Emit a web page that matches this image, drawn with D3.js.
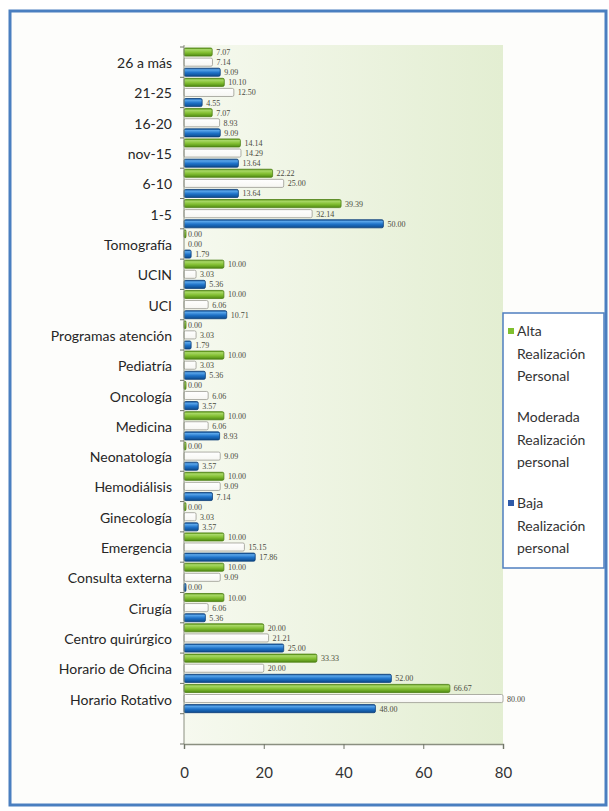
<!DOCTYPE html>
<html><head><meta charset="utf-8">
<script src="https://cdn.jsdelivr.net/npm/d3@7"></script>
<style>html,body{margin:0;padding:0;background:#fff;}svg{display:block;}</style>
</head><body>
<script>
const categories = ["26 a más","21-25","16-20","nov-15","6-10","1-5","Tomografía","UCIN","UCI","Programas atención","Pediatría","Oncología","Medicina","Neonatología","Hemodiálisis","Ginecología","Emergencia","Consulta externa","Cirugía","Centro quirúrgico","Horario de Oficina","Horario Rotativo"];
const alta     = [7.07,10.10,7.07,14.14,22.22,39.39,0.00,10.00,10.00,0.00,10.00,0.00,10.00,0.00,10.00,0.00,10.00,10.00,10.00,20.00,33.33,66.67];
const moderada = [7.14,12.50,8.93,14.29,25.00,32.14,0.00,3.03,6.06,3.03,3.03,6.06,6.06,9.09,9.09,3.03,15.15,9.09,6.06,21.21,20.00,80.00];
const baja     = [9.09,4.55,9.09,13.64,13.64,50.00,1.79,5.36,10.71,1.79,5.36,3.57,8.93,3.57,7.14,3.57,17.86,0.00,5.36,25.00,52.00,48.00];
const seriesNames = ["Alta Realización Personal","Moderada Realización personal","Baja Realización personal"];
const legendLines = [["Alta","Realización","Personal"],["Moderada","Realización","personal"],["Baja","Realización","personal"]];
const xTicks = [0,20,40,60,80];

const W=609,H=811;
const svg=d3.select("body").append("svg").attr("width",W).attr("height",H);
const defs=svg.append("defs");
function vgrad(id,stops){const g=defs.append("linearGradient").attr("id",id).attr("x1",0).attr("y1",0).attr("x2",0).attr("y2",1);
  stops.forEach(s=>g.append("stop").attr("offset",s[0]).attr("stop-color",s[1]));}
vgrad("gGreen",[[0,"#5f9a17"],[0.2,"#a8d867"],[0.55,"#84c033"],[1,"#4f8a12"]]);
vgrad("gWhite",[[0,"#ffffff"],[1,"#f6f6f2"]]);
vgrad("gBlue",[[0,"#0f4f96"],[0.2,"#5aa6ea"],[0.55,"#1e72c8"],[1,"#0d4a8c"]]);
const bg=defs.append("linearGradient").attr("id","gPlot").attr("x1",0).attr("y1",0).attr("x2",1).attr("y2",0);
bg.append("stop").attr("offset",0).attr("stop-color","#f6f9ef");
bg.append("stop").attr("offset",1).attr("stop-color","#e3eed2");

// frame
svg.append("rect").attr("x",10).attr("y",11).attr("width",596).attr("height",794).attr("fill","#fdfdfb").attr("stroke","#4a7fc0").attr("stroke-width",3);

const x=d3.scaleLinear().domain([0,80]).range([184,503]);
const yDomain=categories.concat([""]);
const y=d3.scaleBand().domain(yDomain).range([47,744]).paddingInner(0).paddingOuter(0);
const keys=["a","m","b"];
const ys=d3.scaleBand().domain(keys).range([0,y.bandwidth()]).paddingInner(0.2).paddingOuter(0.1);

svg.append("rect").attr("x",x(0)).attr("y",45).attr("width",x(80)-x(0)).attr("height",744-45).attr("fill","url(#gPlot)");

const data=categories.map((c,i)=>({c,a:alta[i],m:moderada[i],b:baja[i]}));
const fills={a:"url(#gGreen)",m:"url(#gWhite)",b:"url(#gBlue)"};
const strokes={a:"#4d7f14",m:"#9a9a92",b:"#0c3f7a"};

const g=svg.append("g");
data.forEach(d=>{
  keys.forEach(k=>{
    const yy=y(d.c)+ys(k);
    const w=Math.max(x(d[k])-x(0),0);
    g.append("rect").attr("x",x(0)).attr("y",yy).attr("width",Math.max(w,k==="m"?0:2)).attr("height",ys.bandwidth())
      .attr("fill",fills[k]).attr("stroke",strokes[k]).attr("stroke-width",0.8).attr("rx",1.5);
    g.append("text").attr("x",x(d[k])+4).attr("y",yy+ys.bandwidth()/2+3)
      .attr("font-family","Liberation Serif, serif").attr("font-size",8).attr("fill","#4a4a40")
      .text(d[k].toFixed(2));
  });
});

// y axis
svg.append("line").attr("x1",x(0)).attr("x2",x(0)).attr("y1",45).attr("y2",744).attr("stroke","#8a8f80").attr("stroke-width",1);
yDomain.forEach(c=>{
  svg.append("line").attr("x1",x(0)-4).attr("x2",x(0)).attr("y1",y(c)).attr("y2",y(c)).attr("stroke","#707568");
});
svg.append("line").attr("x1",x(0)-4).attr("x2",x(0)).attr("y1",744).attr("y2",744).attr("stroke","#707568");
categories.forEach(c=>{
  svg.append("text").attr("x",172).attr("y",y(c)+y.bandwidth()/2+6).attr("text-anchor","end")
    .attr("font-family","Lato, sans-serif").attr("font-size",14).attr("fill","#262626").text(c);
});

// x axis
const xa=svg.append("g").attr("transform","translate(0,744)")
  .call(d3.axisBottom(x).tickValues(xTicks).tickSize(5).tickPadding(18).tickFormat(d3.format("d")));
xa.select(".domain").attr("stroke","#8a8f80").attr("stroke-width",1.5);
xa.selectAll(".tick line").attr("stroke","#707568");
xa.selectAll("text").attr("font-family","Lato, sans-serif").attr("font-size",15).attr("fill","#333");

// legend
const lg=svg.append("g");
lg.append("rect").attr("x",503).attr("y",313).attr("width",101).attr("height",255).attr("fill","#fff").attr("stroke","#4f7fc0").attr("stroke-width",1.5);
const mk=["#7fbf2e","#ffffff","#2f5aa8"];
legendLines.forEach((lines,i)=>{
  const y0=336+i*86;
  lg.append("rect").attr("x",508).attr("y",y0-8).attr("width",6).attr("height",6).attr("fill",mk[i]);
  lines.forEach((t,j)=>{
    lg.append("text").attr("x",517).attr("y",y0+j*22.5).attr("font-family","Lato, sans-serif").attr("font-size",14).attr("fill","#333").text(t);
  });
});
</script>
</body></html>
